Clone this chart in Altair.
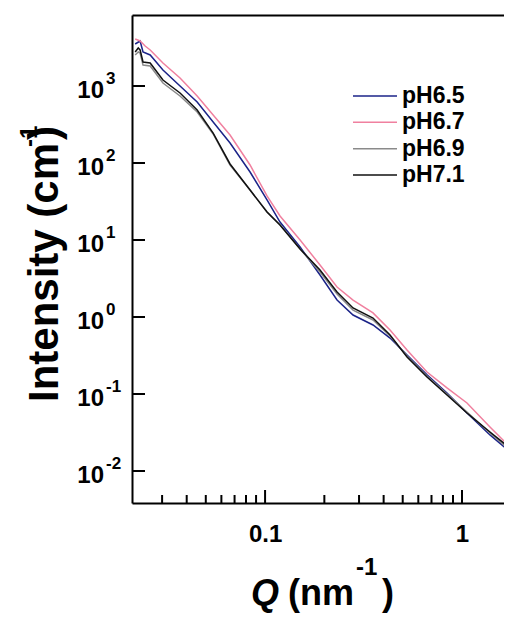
import altair as alt
import pandas as pd

FONT = "Liberation Sans, Arial, sans-serif"

series_names = ["pH6.5", "pH6.7", "pH6.9", "pH7.1"]
series_colors = ["#1b2388", "#f0809f", "#8a8a8a", "#111111"]

# pH6.5
q_65 = [0.0219, 0.0232, 0.0240, 0.0261, 0.0303, 0.0370, 0.0452, 0.0545, 0.0664, 0.0839,
        0.1023, 0.1191, 0.1506, 0.1901, 0.2320, 0.2797, 0.3533, 0.4311, 0.5258, 0.6640,
        0.8390, 1.060, 1.387, 1.753]
i_65 = [3511, 3841, 2765, 2527, 1614, 1000, 620, 341, 182, 76.4,
        33.1, 17.1, 8.11, 3.51, 1.66, 1.06, 0.787, 0.533, 0.321, 0.177,
        0.103, 0.0567, 0.0294, 0.0177]
# pH6.7
q_67 = [0.0219, 0.0232, 0.0246, 0.0261, 0.0303, 0.0370, 0.0452, 0.0545, 0.0664, 0.0839,
        0.1023, 0.1191, 0.1506, 0.1901, 0.2320, 0.2797, 0.3533, 0.4311, 0.5258, 0.6640,
        0.8390, 1.060, 1.387, 1.753]
i_67 = [4075, 3841, 3306, 2935, 1990, 1271, 741, 420, 231, 94.2,
        37.3, 20.5, 10.0, 4.73, 2.45, 1.66, 1.13, 0.678, 0.373, 0.193,
        0.120, 0.0764, 0.0373, 0.0205]
# pH6.9
q_69 = [0.0219, 0.0227, 0.0232, 0.0240, 0.0261, 0.0303, 0.0370, 0.0452, 0.0545, 0.0664,
        0.0839, 0.1023, 0.1191, 0.1506, 0.1901, 0.2320, 0.2797, 0.3533, 0.4311, 0.5258,
        0.6640, 0.8390, 1.060, 1.387, 1.753]
i_69 = [2527, 2765, 2684, 1874, 1819, 1094, 741, 459, 238, 94.2,
        44.6, 23.1, 15.7, 7.64, 3.84, 1.99, 1.23, 0.914, 0.567, 0.312,
        0.171, 0.100, 0.0584, 0.0312, 0.0187]
# pH7.1
q_71 = [0.0219, 0.0227, 0.0232, 0.0240, 0.0261, 0.0303, 0.0370, 0.0452, 0.0545, 0.0664,
        0.0839, 0.1023, 0.1191, 0.1506, 0.1901, 0.2320, 0.2797, 0.3533, 0.4311, 0.5258,
        0.6640, 0.8390, 1.060, 1.387, 1.753]
i_71 = [2765, 3117, 2935, 2050, 1990, 1197, 811, 488, 245, 97.1,
        44.6, 23.1, 15.7, 7.64, 4.08, 2.11, 1.31, 0.970, 0.584, 0.303,
        0.166, 0.0971, 0.0567, 0.0321, 0.0199]

x_major = [0.1, 1.0]
x_minor = [0.03, 0.04, 0.05, 0.06, 0.07, 0.08, 0.09, 0.2, 0.3, 0.4, 0.5, 0.6, 0.7, 0.8, 0.9]
y_major = [1000, 100, 10, 1, 0.1, 0.01]
y_exps = ["3", "2", "1", "0", "-1", "-2"]

X_DOMAIN = [0.0211, 1.634]
Y_DOMAIN = [0.003839, 8357]
W, H = 372, 488

rows = []
for name, qs, vals in [("pH6.5", q_65, i_65), ("pH6.7", q_67, i_67),
                       ("pH6.9", q_69, i_69), ("pH7.1", q_71, i_71)]:
    for q, v in zip(qs, vals):
        rows.append({"series": name, "q": q, "I": v})
df = pd.DataFrame(rows)

xs = alt.Scale(type="log", domain=X_DOMAIN, nice=False)
ys = alt.Scale(type="log", domain=Y_DOMAIN, nice=False)
cs = alt.Scale(domain=series_names, range=series_colors)

lines = alt.Chart(df).mark_line(strokeWidth=1.5, clip=True).encode(
    x=alt.X("q:Q", scale=xs, axis=alt.Axis(
        orient="bottom", values=x_major, format="~g", ticks=False, tickSize=0,
        labelFontSize=24, labelFont=FONT, labelFontWeight="bold", labelColor="black",
        labelPadding=19, domainWidth=2, domainColor="black", grid=False, title=None)),
    y=alt.Y("I:Q", scale=ys, axis=alt.Axis(
        orient="left", labels=False, ticks=False, domainWidth=2, domainColor="black",
        grid=False, title=None)),
    color=alt.Color("series:N", scale=cs, legend=None),
)

xmaj_df = pd.DataFrame({"v": x_major})
xmin_df = pd.DataFrame({"v": x_minor})
ymaj_df = pd.DataFrame({"v": y_major, "e": y_exps})

xmaj = alt.Chart(xmaj_df).mark_rule(color="black", strokeWidth=2).encode(
    x=alt.X("v:Q", scale=xs, axis=alt.Axis(
        orient="top", labels=False, ticks=False, domainWidth=2, domainColor="black",
        grid=False, title=None)),
    y=alt.value(H), y2=alt.value(H - 13),
)
xmin = alt.Chart(xmin_df).mark_rule(color="black", strokeWidth=2).encode(
    x=alt.X("v:Q", scale=xs, axis=None),
    y=alt.value(H), y2=alt.value(H - 8),
)
ymaj = alt.Chart(ymaj_df).mark_rule(color="black", strokeWidth=2).encode(
    y=alt.Y("v:Q", scale=ys, axis=None),
    x=alt.value(0), x2=alt.value(13),
)
ylab = alt.Chart(ymaj_df).mark_text(
    font=FONT, fontSize=24, fontWeight="bold", align="right", baseline="alphabetic",
    dy=12, color="black").encode(
    y=alt.Y("v:Q", scale=ys, axis=None), x=alt.value(-28), text=alt.value("10"))
yexp = alt.Chart(ymaj_df).mark_text(
    font=FONT, fontSize=17, fontWeight="bold", align="left", baseline="alphabetic",
    dy=-2, color="black").encode(
    y=alt.Y("v:Q", scale=ys, axis=None), x=alt.value(-26), text="e:N")

leg_df = pd.DataFrame({"series": series_names})
leg_y = alt.Scale(type="point", domain=series_names, range=[81, 160], padding=0)
leg_rule = alt.Chart(leg_df).mark_rule(strokeWidth=1.5).encode(
    y=alt.Y("series:N", scale=leg_y, axis=None),
    x=alt.value(221), x2=alt.value(265),
    color=alt.Color("series:N", scale=cs, legend=None),
)
leg_text = alt.Chart(leg_df).mark_text(
    font=FONT, fontSize=23, fontWeight="bold", align="left", baseline="middle",
    color="black").encode(
    y=alt.Y("series:N", scale=leg_y, axis=None),
    x=alt.value(270), text="series:N",
)

one = pd.DataFrame({"k": [0]})

def piece(txt, x, y, size, angle=0, italic=False):
    kw = dict(font=FONT, fontSize=size, fontWeight="bold", align="left",
              baseline="alphabetic", color="black")
    if angle:
        kw["angle"] = angle
    if italic:
        kw["fontStyle"] = "italic"
    return alt.Chart(one).mark_text(**kw).encode(
        x=alt.value(x), y=alt.value(y), text=alt.value(txt))

titles = [
    piece("Intensity (cm", -74, 387, 42, angle=270),
    piece("-1", -95, 132, 24, angle=270),
    piece(")", -74, 125, 42, angle=270),
    piece("Q", 119, 590, 36, italic=True),
    piece("(nm", 156, 590, 36),
    piece("-1", 224, 560, 24),
    piece(")", 250, 590, 36),
]

chart = alt.layer(
    lines, xmaj, xmin, ymaj, ylab, yexp, leg_rule, leg_text, *titles
).resolve_scale(y="independent").resolve_axis(x="independent").properties(
    width=W, height=H,
    autosize=alt.AutoSizeParams(type="none"),
    padding={"left": 124, "top": 7, "right": 0, "bottom": 110},
    background="white",
).configure_view(stroke=None)

chart.save("out.html", embed_options={"renderer": "svg", "actions": False})
